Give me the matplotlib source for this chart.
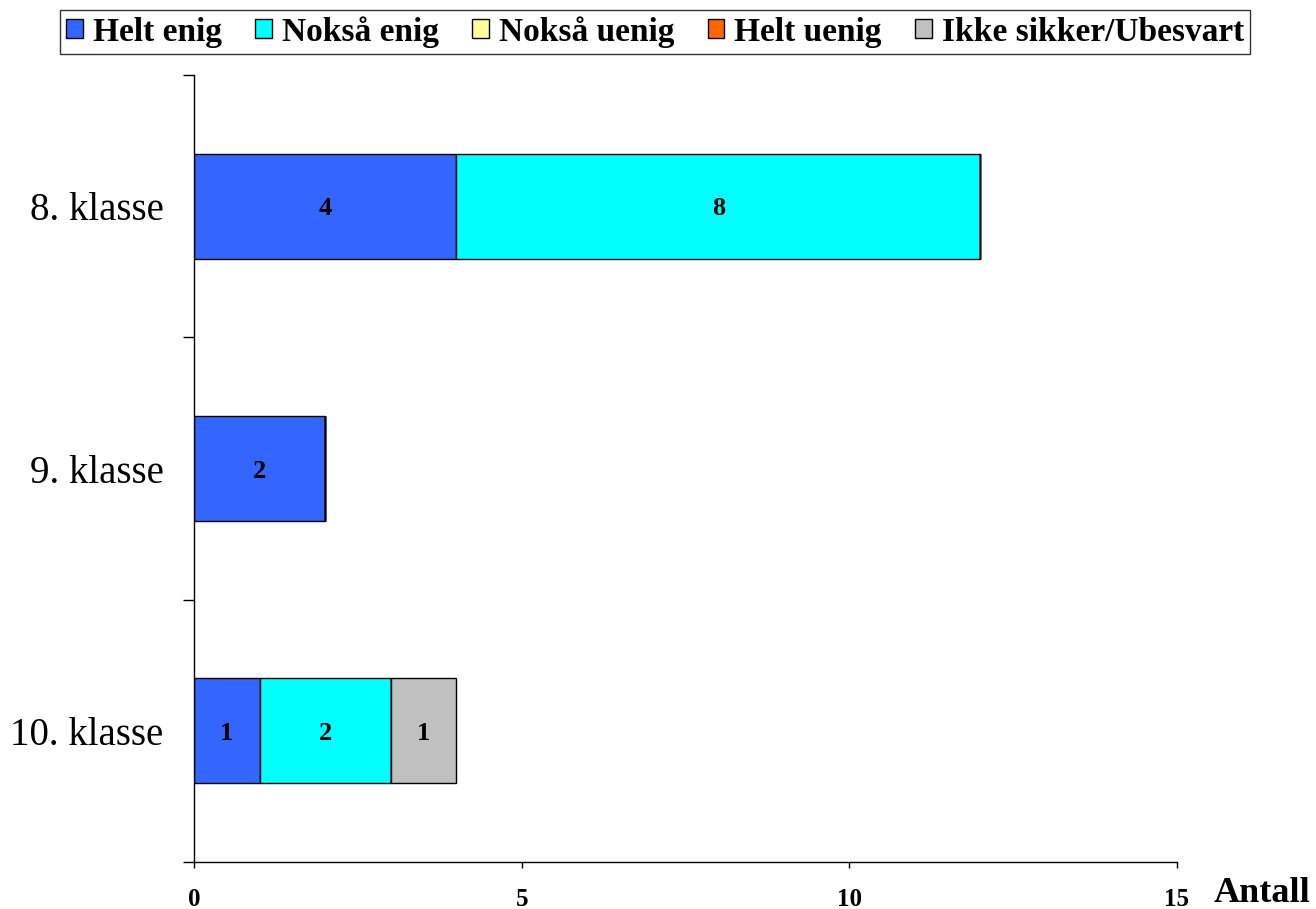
import matplotlib
matplotlib.use("Agg")
import matplotlib.pyplot as plt
import numpy as np

categories = ["8. klasse", "9. klasse", "10. klasse"]
series_names = ["Helt enig", "Nokså enig", "Nokså uenig", "Helt uenig", "Ikke sikker/Ubesvart"]
values = {
    "Helt enig": [4, 2, 1],
    "Nokså enig": [8, 0, 2],
    "Nokså uenig": [0, 0, 0],
    "Helt uenig": [0, 0, 0],
    "Ikke sikker/Ubesvart": [0, 0, 1],
}
colors = ["#3366FF", "#00FFFF", "#FFFF99", "#FF6600", "#C0C0C0"]
xticks = [0, 5, 10, 15]

plt.rcParams['font.family'] = ['Liberation Serif', 'DejaVu Serif']

fig = plt.figure(figsize=(13.16, 9.09), dpi=100)
ax = fig.add_axes([194/1316, 1-862/909, (1177-194)/1316, (862-75)/909])

y = np.arange(len(categories))
left = np.zeros(len(categories))
handles = []
for name, col in zip(series_names, colors):
    vals = np.array(values[name], dtype=float)
    bars = ax.barh(y, vals, left=left, height=0.4, color=col, edgecolor='black', linewidth=1.0, label=name)
    for yi, (l, v) in enumerate(zip(left, vals)):
        if v > 0:
            ax.text(l + v/2, yi + 0.01, f"{int(v)}", ha='center', va='center', fontsize=19, fontweight='bold')
    handles.append(bars)
    left += vals

ax.set_xlim(0, 15)
ax.set_ylim(2.5, -0.5)
ax.set_xticks(xticks)
ax.set_xticklabels([str(t) for t in xticks], fontsize=18, fontweight='bold')
ax.set_yticks(y)
ax.set_yticklabels(categories, fontsize=28)
ax.set_yticks([-0.5, 0.5, 1.5, 2.5], minor=True)
ax.tick_params(axis='y', which='major', length=0, pad=22)
ax.tick_params(axis='y', which='minor', length=8, width=1.0, direction='out')
ax.tick_params(axis='x', which='major', length=4.5, width=1.0, direction='out', pad=14)
for s in ['top', 'right']:
    ax.spines[s].set_visible(False)
for s in ['left', 'bottom']:
    ax.spines[s].set_linewidth(1.0)

fig.text(1262/1316, 1-893/909, "Antall", ha='center', va='center', fontsize=26, fontweight='bold')

leg = fig.legend(handles, series_names, loc='center', bbox_to_anchor=(655/1316, 1-32/909),
                 ncol=5, frameon=True, fancybox=False, edgecolor='black',
                 prop={'weight': 'bold', 'size': 24}, handlelength=0.5, handleheight=0.5,
                 handletextpad=0.3, columnspacing=1.0, borderpad=0.18, borderaxespad=0)
leg.get_frame().set_linewidth(1.0)

fig.savefig("out.png", dpi=100)
